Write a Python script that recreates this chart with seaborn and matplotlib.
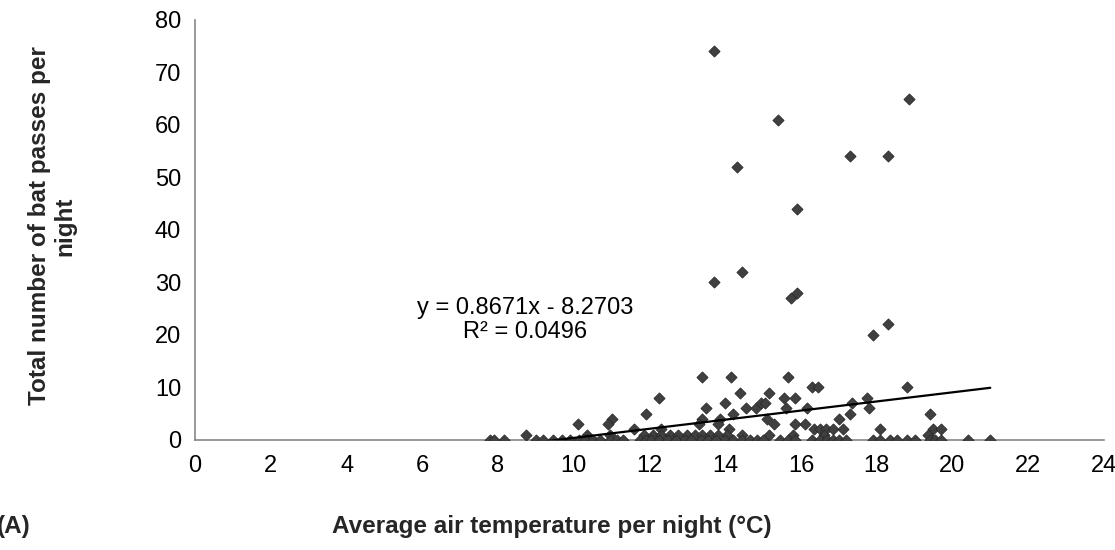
import numpy as np
import pandas as pd
import matplotlib
matplotlib.use("Agg")
import matplotlib.pyplot as plt
import seaborn as sns

# average air temperature per night (deg C) and bat passes per night
temp_high = [13.7, 18.85, 15.4, 14.3, 17.3, 18.3, 15.9, 13.7, 14.45, 15.75, 15.9, 17.9, 18.3]
pass_high = [74, 65, 61, 52, 54, 54, 44, 30, 32, 27, 28, 20, 22]

temp_mid = [13.4, 14.15, 15.65, 14.4, 15.15, 16.3, 16.45, 18.8, 12.25, 15.55, 15.85, 17.75,
            13.5, 14.0, 14.55, 14.8, 14.95, 15.05, 15.6, 16.15, 17.35, 17.8, 11.9, 14.2, 17.3, 19.4,
            11.0, 13.4, 13.85, 15.1, 17.0, 10.1, 10.9, 13.3, 13.8, 15.3, 15.85, 16.1,
            11.6, 12.3, 14.1, 16.35, 16.5, 16.65, 16.85, 17.1, 18.1, 19.5, 19.7]
pass_mid = [12, 12, 12, 9, 9, 10, 10, 10, 8, 8, 8, 8,
            6, 7, 6, 6, 7, 7, 6, 6, 7, 6, 5, 5, 5, 5,
            4, 4, 4, 4, 4, 3, 3, 3, 3, 3, 3, 3,
            2, 2, 2, 2, 2, 2, 2, 2, 2, 2, 2]

temp_one = [8.75, 10.35, 10.95, 11.85, 12.1, 12.3, 12.55, 12.75, 13.0, 13.2, 13.4, 13.6,
            13.8, 14.05, 14.45, 15.15, 15.8, 16.6, 19.35]
temp_zero = [7.8, 7.9, 8.15, 9.0, 9.2, 9.45, 9.7, 9.9, 10.15, 10.3, 10.5, 10.7, 10.95, 11.15,
             11.3, 11.75, 11.9, 12.05, 12.25, 12.5, 12.7, 12.95, 13.1, 13.35, 13.55, 13.75,
             14.0, 14.2, 14.45, 14.65, 14.85, 15.0, 15.45, 15.65, 15.85, 16.3, 16.5, 16.7,
             16.85, 17.0, 17.2, 17.9, 18.1, 18.35, 18.55, 18.8, 19.0, 19.4, 19.55, 19.7,
             20.4, 21.0]

# linear trendline as printed on the chart
slope = 0.8671
intercept = -8.2703
r2 = 0.0496

temps = temp_high + temp_mid + temp_one + temp_zero
passes = pass_high + pass_mid + [1] * len(temp_one) + [0] * len(temp_zero)
df = pd.DataFrame({"temp": temps, "passes": passes})

sns.set_theme(style="white")
plt.rcParams["font.family"] = ["Liberation Sans", "DejaVu Sans"]

fig = plt.figure(figsize=(11.15, 5.5), dpi=100)
ax = fig.add_axes([0.175, 0.2, 0.815, 0.764])

sns.scatterplot(data=df, x="temp", y="passes", marker="D", s=32, color="#404040",
                edgecolor="#2a2a2a", linewidth=0.6, ax=ax, zorder=3)

xfit = np.array([df["temp"].min(), df["temp"].max()])
sns.lineplot(x=xfit, y=slope * xfit + intercept, color="black", linewidth=1.6, ax=ax, zorder=4)

ax.text(8.72, 22.9, f"y = {slope}x - {abs(intercept)}\nR\u00b2 = {r2}", ha="center", va="center",
        multialignment="center", fontsize=17, color="black", linespacing=1.1)

ax.set_xlim(0, 24)
ax.set_ylim(0, 80)
ax.set_xticks(np.arange(0, 25, 2))
ax.set_yticks(np.arange(0, 81, 10))
ax.set_xlabel("")
ax.set_ylabel("")
sns.despine(ax=ax)
for side in ["left", "bottom"]:
    ax.spines[side].set_color("#868686")
    ax.spines[side].set_linewidth(1.2)
ax.tick_params(axis="both", which="major", direction="out", length=4, width=1.2,
               color="#868686", labelsize=17, labelcolor="black")
ax.tick_params(axis="x", pad=7)
ax.tick_params(axis="y", pad=6)

fig.text(52 / 1115, 1 - 226 / 550, "Total number of bat passes per\nnight", rotation=90,
         ha="center", va="center", multialignment="center", fontsize=17.5, fontweight="bold",
         linespacing=1.1)
fig.text(552 / 1115, 1 - 527 / 550, "Average air temperature per night (\u00b0C)",
         ha="center", va="center", fontsize=17.5, fontweight="bold")
fig.text(30 / 1115, 1 - 527 / 550, "(A)", ha="right", va="center", fontsize=17.5, fontweight="bold")

fig.savefig("out.png", dpi=100)
